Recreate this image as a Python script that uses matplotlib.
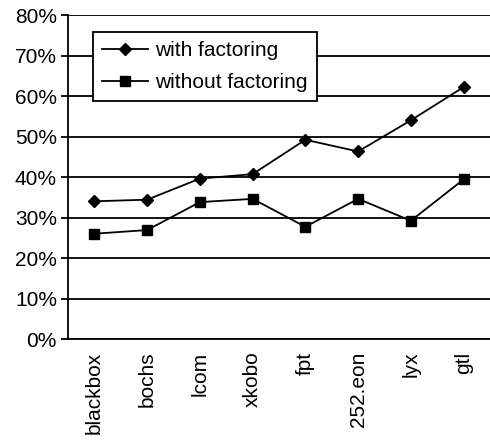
import numpy as np
import matplotlib.pyplot as plt
from matplotlib.ticker import FuncFormatter

# --- DATA ---
programs = ['blackbox', 'bochs', 'lcom', 'xkobo', 'fpt', '252.eon', 'lyx', 'gtl']
with_factoring = [34.0, 34.4, 39.6, 40.7, 49.2, 46.3, 54.0, 62.2]
without_factoring = [26.0, 26.9, 33.8, 34.6, 27.7, 34.6, 29.2, 39.4]
yticks = [0, 10, 20, 30, 40, 50, 60, 70, 80]

plt.rcParams['font.family'] = ['Liberation Sans', 'DejaVu Sans']

fig = plt.figure(figsize=(4.9, 4.4), dpi=100)
ax = fig.add_axes([68 / 490, 1 - 339 / 440, 422 / 490, 324 / 440])

x = np.arange(len(programs))
ax.plot(x, with_factoring, color='black', lw=1.3, marker='D', ms=6.5,
        label='with factoring', zorder=3)
ax.plot(x, without_factoring, color='black', lw=1.3, marker='s', ms=7.5,
        label='without factoring', zorder=3)

ax.set_xlim(-0.5, len(programs) - 0.5)
ax.set_ylim(0, 80)
ax.set_yticks(yticks)
ax.yaxis.set_major_formatter(FuncFormatter(lambda v, p: f"{v:.0f}%"))
ax.set_xticks(x)
ax.set_xticklabels(programs, rotation=90, fontsize=15)
ax.tick_params(axis='x', length=0, pad=9)
ax.tick_params(axis='y', length=5, width=1.3, labelsize=15, pad=3)

ax.grid(axis='y', color='black', lw=1.3)
ax.set_axisbelow(True)
for s in ['top', 'right']:
    ax.spines[s].set_visible(False)
for s in ['left', 'bottom']:
    ax.spines[s].set_linewidth(1.3)

leg = ax.legend(loc='upper left', bbox_to_anchor=(25 / 422, 1 - 17 / 324),
                borderaxespad=0, fontsize=15, frameon=True, fancybox=False,
                framealpha=1, edgecolor='black', handlelength=2.2,
                handletextpad=0.35, borderpad=0.45, labelspacing=0.6)
leg.get_frame().set_linewidth(1.3)

fig.savefig('out.png', dpi=100)
